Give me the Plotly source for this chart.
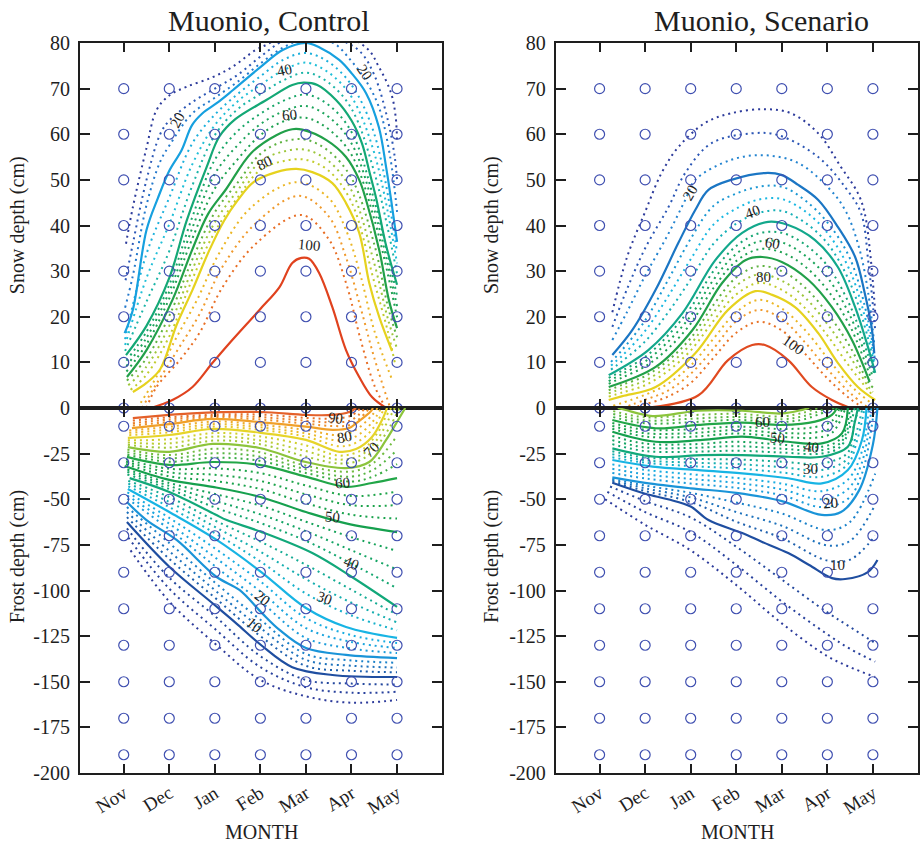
import plotly.graph_objects as go
from plotly.colors import find_intermediate_color, hex_to_rgb

FONT = "Liberation Serif, Times New Roman, serif"
INK = "#1e1e1e"
CIRCLE = "#3f4fb0"

# ---- axes / grid -----------------------------------------------------------
MONTHS = ["Nov", "Dec", "Jan", "Feb", "Mar", "Apr", "May"]
MONTH_X = [1, 2, 3, 4, 5, 6, 7]
SNOW_GRID = [0, 10, 20, 30, 40, 50, 60, 70]
FROST_GRID = [-10, -30, -50, -70, -90, -110, -130, -150, -170, -190]
SNOW_TICKS = [0, 10, 20, 30, 40, 50, 60, 70, 80]
FROST_TICKS = [-200, -175, -150, -125, -100, -75, -50, -25]
SNOW_TICK_TEXT = ["0", "10", "20", "30", "40", "50", "60", "70", "80"]
FROST_TICK_TEXT = ["-200", "-175", "-150", "-125", "-100", "-75", "-50", "-25"]
SNOW_SOLID = [20, 40, 60, 80, 100]
FROST_SOLID = [10, 20, 30, 40, 50, 60, 70, 80, 90, 100]

# ---- probability isolines: level (%) -> [(month, depth cm), ...] ----------
ctrl_snow = {
    5: [(1.05, 36), (1.2, 44), (1.5, 57), (1.72, 65.3), (2.0, 68.5), (2.38, 70.4), (2.95, 72.5), (3.39, 74.8),
        (3.9, 78.5), (4.13, 79.6), (5.1, 84), (6.32, 79), (6.6, 74.8), (6.87, 69), (6.97, 63.8), (7.0, 58)],
    10: [(1.04, 28), (1.2, 36), (1.5, 50), (1.8, 60), (2.0, 63), (2.5, 67), (3.0, 70), (3.5, 73), (4.0, 77),
         (4.5, 80.5), (5.1, 82.5), (5.8, 80.5), (6.2, 78), (6.5, 73), (6.8, 63), (6.95, 55), (7.0, 50)],
    15: [(1.03, 22), (1.2, 29), (1.5, 44.5), (1.8, 54), (2.0, 57.5), (2.5, 64.5), (3.0, 68), (3.5, 71.5),
         (4.0, 75.5), (4.5, 79), (5.0, 81), (5.6, 80), (6.0, 76), (6.3, 72), (6.6, 66), (6.85, 55), (7.0, 43)],
    20: [(1.02, 16.4), (1.2, 21.5), (1.5, 39), (1.75, 46), (2.0, 52), (2.27, 56.5), (2.5, 62), (2.73, 64.6),
         (3.04, 66.8), (3.4, 69.7), (4.0, 74.7), (4.5, 78.5), (5.0, 80), (5.3, 79), (5.73, 76.3), (6.0, 73.4),
         (6.32, 69), (6.6, 61.6), (6.76, 52.8), (6.87, 45.6), (7.0, 36.4)],
    25: [(1.03, 15.1), (1.5, 33.8), (2.0, 46.1), (2.5, 57.9), (3.0, 64.3), (3.5, 68.8), (4.0, 72.7), (4.5, 76.3),
         (5.0, 77.8), (5.5, 75.8), (6.0, 70.8), (6.5, 60.1), (7.0, 34.1)],
    30: [(1.03, 13.8), (1.5, 28.5), (2.0, 40.3), (2.5, 53.3), (3.0, 62), (3.5, 67.2), (4.0, 70.8), (4.5, 74),
         (5.0, 75.7), (5.5, 73.5), (6.0, 68.2), (6.5, 55.9), (7.0, 31.7)],
    35: [(1.03, 12.5), (1.5, 23.3), (2.0, 34.4), (2.5, 48.6), (3.0, 59.8), (3.5, 65.5), (4.0, 68.8), (4.5, 71.8),
         (5.0, 73.5), (5.5, 71.3), (6.0, 65.6), (6.5, 51.7), (7.0, 29.4)],
    40: [(1.05, 11.6), (1.5, 18), (2.0, 28.5), (2.38, 41), (2.82, 52.8), (3.1, 59.5), (3.45, 63.3), (4.13, 67.5),
         (4.7, 70.8), (4.95, 71.3), (5.25, 70.8), (5.66, 67.5), (6.0, 63), (6.23, 58), (6.4, 51.5), (6.55, 45.6),
         (6.75, 36), (7.0, 27)],
    45: [(1.06, 10.4), (1.5, 16.7), (2.0, 27), (2.5, 41.7), (3.0, 54.4), (3.5, 60.7), (4.0, 64.5), (4.5, 67.3),
         (5.0, 68.7), (5.5, 66.4), (6.0, 60.5), (6.5, 45.5), (7.0, 24.6)],
    50: [(1.06, 9.2), (1.5, 15.4), (2.0, 25.5), (2.5, 39.3), (3.0, 51.3), (3.5, 57.6), (4.0, 62.2), (4.5, 65),
         (5.0, 66.2), (5.5, 63.8), (6.0, 58), (6.5, 43.5), (7.0, 22.3)],
    55: [(1.06, 8), (1.5, 14), (2.0, 24), (2.5, 37), (3.0, 48.1), (3.5, 54.5), (4.0, 59.8), (4.5, 62.8),
         (5.0, 63.6), (5.5, 61.1), (6.0, 55.5), (6.5, 41.4), (7.0, 19.9)],
    60: [(1.07, 6.8), (1.5, 12.7), (2.07, 23.7), (2.5, 34.6), (2.85, 42.5), (3.25, 48), (3.8, 55.9),
         (4.35, 59.8), (4.7, 61.1), (4.92, 61), (5.45, 58.7), (5.88, 55), (6.17, 50), (6.32, 45.6),
         (6.61, 34.6), (6.82, 23.7), (7.0, 17.5)],
    65: [(1.07, 6), (1.5, 10.9), (2.0, 20.2), (2.5, 32.4), (3.0, 42.9), (3.5, 49.4), (4.0, 55.7), (4.5, 58.4),
         (5.0, 58.8), (5.5, 56.3), (6.0, 50.4), (6.5, 35.9), (6.8, 22.2), (7.0, 15.5)],
    70: [(1.1, 5), (1.5, 9.1), (2.0, 18), (2.5, 30.2), (3.0, 40.7), (3.5, 47.7), (4.0, 54), (4.5, 56.2),
         (5.0, 56.6), (5.5, 54.1), (6.0, 47.7), (6.5, 31.7), (6.8, 19.5), (7.0, 13)],
    75: [(1.15, 4), (1.5, 7.3), (2.0, 15.7), (2.5, 28.1), (3.0, 38.6), (3.5, 46.1), (4.0, 52.2), (4.5, 54.1),
         (5.0, 54.4), (5.5, 52), (6.0, 45.1), (6.5, 27.6), (6.8, 16.7), (6.95, 10)],
    80: [(1.2, 3.5), (1.5, 5.5), (1.8, 8.5), (2.16, 18.2), (2.51, 25.9), (2.88, 34.6), (3.2, 41), (3.5, 45.5),
         (3.85, 49.5), (4.35, 51.7), (4.79, 52.4), (5.14, 51.7), (5.58, 49.3), (5.88, 44.9), (6.17, 38.4),
         (6.39, 27.4), (6.61, 19.9), (6.89, 12.5)],
    85: [(1.3, 0), (1.7, 6.5), (2.16, 15.5), (2.6, 23.5), (3.1, 34), (3.8, 44), (4.8, 49.5), (5.5, 46),
         (5.88, 39), (6.2, 29), (6.5, 17), (6.9, 6)],
    90: [(1.4, 0), (1.7, 5), (2.2, 13), (2.66, 20.5), (3.17, 31), (3.9, 40.5), (4.85, 46.5), (5.5, 42),
         (5.88, 33), (6.2, 22), (6.5, 11), (6.85, 0)],
    95: [(1.5, 0), (1.72, 4.6), (2.23, 10.5), (2.66, 16.4), (3.17, 26.5), (3.9, 36), (4.9, 42.3), (5.5, 37),
         (5.88, 27.4), (6.2, 15), (6.5, 5), (6.75, 0)],
    100: [(1.6, 0), (2.07, 1.75), (2.51, 4.6), (2.95, 9.9), (3.32, 14.2), (3.98, 21.5), (4.42, 26.5), (4.7, 31.8),
          (4.9, 32.9), (5.07, 32.7), (5.29, 29.6), (5.58, 22.1), (5.88, 12.7), (6.17, 6.8), (6.45, 2.4), (6.76, 0)],
}

ctrl_frost = {
    2.5: [(1.15, -78), (2.0, -106), (3.0, -129), (4.0, -149), (5.0, -158), (6.0, -161.5), (7.0, -160)],
    5: [(1.1, -71), (2.0, -99), (3.0, -121), (4.0, -142), (5.0, -153), (6.0, -156), (7.0, -155.5)],
    7.5: [(1.07, -66), (2.0, -93), (3.0, -114), (4.0, -136), (5.0, -149), (6.0, -151), (7.0, -151.5)],
    10: [(1.07, -62.5), (2.0, -87), (2.95, -107), (3.47, -118), (4.02, -130), (4.7, -142), (5.58, -146.3),
         (7.0, -147.4)],
    12.5: [(1.07, -59.8), (2.0, -82.7), (3.0, -103.9), (4.0, -125), (5.0, -141.3), (6.0, -144), (7.0, -144.8)],
    15: [(1.07, -57), (2.0, -78.4), (3.0, -99.8), (4.0, -120.5), (5.0, -138), (6.0, -141.2), (7.0, -142.2)],
    17.5: [(1.07, -54.3), (2.0, -74), (3.0, -95.6), (4.0, -116), (5.0, -134.8), (6.0, -138.3), (7.0, -139.6)],
    20: [(1.07, -51.5), (1.5, -61.4), (2.16, -72.3), (3.04, -92.6), (3.54, -99.7), (4.02, -112), (4.42, -121.6),
         (5.0, -131.5), (5.88, -135.3), (7.0, -137)],
    22.5: [(1.08, -49.7), (2.0, -66.5), (3.0, -86.6), (4.0, -106), (5.0, -126), (6.0, -131.8), (7.0, -134.3)],
    25: [(1.08, -48), (2.0, -63.4), (3.0, -81.8), (4.0, -100.5), (5.0, -120.6), (6.0, -128.2), (7.0, -131.5)],
    27.5: [(1.08, -46.2), (2.0, -60.2), (3.0, -76.9), (4.0, -95), (5.0, -115.1), (6.0, -124.5), (7.0, -128.8)],
    30: [(1.09, -44.4), (2.0, -57), (3.04, -72.3), (4.02, -89.9), (5.0, -109.6), (5.88, -120), (7.0, -126)],
    32.5: [(1.1, -42.9), (2.0, -54.3), (3.0, -68.6), (4.0, -84.1), (5.0, -101.7), (6.0, -113.7), (7.0, -121.8)],
    35: [(1.1, -41.4), (2.0, -51.5), (3.0, -65.1), (4.0, -78.7), (5.0, -93.8), (6.0, -106.7), (7.0, -117.5)],
    37.5: [(1.1, -39.9), (2.0, -48.8), (3.0, -61.6), (4.0, -73.2), (5.0, -85.9), (6.0, -99.6), (7.0, -113.3)],
    40: [(1.13, -38.4), (2.0, -46), (3.0, -58.2), (3.26, -61.4), (4.02, -67.9), (5.14, -79.5), (6.01, -92.6),
         (7.0, -109)],
    42.5: [(1.08, -36.4), (2.0, -44.4), (3.0, -54.5), (4.0, -63), (5.0, -72.8), (6.0, -85.3), (7.0, -98.8)],
    45: [(1.08, -35), (2.0, -42.7), (3.0, -50.8), (4.0, -58.3), (5.0, -67.5), (6.0, -78), (7.0, -88.5)],
    47.5: [(1.08, -33.7), (2.0, -41.1), (3.0, -47.1), (4.0, -53.5), (5.0, -62.3), (6.0, -70.8), (7.0, -78.3)],
    50: [(1.02, -31.8), (2.0, -39.4), (2.95, -43.2), (3.98, -48.6), (5.0, -57), (5.88, -63.2), (7.0, -68)],
    52.5: [(1.05, -30.7), (2.0, -37.4), (3.0, -40), (4.0, -44.4), (5.0, -52.2), (6.0, -58.5), (7.0, -60.6)],
    55: [(1.05, -29.4), (2.0, -35.3), (3.0, -36.6), (4.0, -40), (5.0, -47.3), (6.0, -53.3), (7.0, -53.2)],
    57.5: [(1.05, -28.1), (2.0, -33.3), (3.0, -33.1), (4.0, -35.7), (5.0, -42.5), (6.0, -48.2), (7.0, -45.8)],
    60: [(1.07, -26.8), (2.0, -31.2), (2.95, -29.6), (3.98, -31.2), (5.0, -37.6), (5.88, -43.2), (6.45, -41.1),
         (7.0, -38.4)],
    62.5: [(1.08, -25.6), (2.0, -29.4), (3.0, -27.2), (4.0, -29), (5.0, -35.6), (6.0, -40.3), (6.5, -37.3),
           (7.0, -30.7)],
    65: [(1.08, -24.2), (2.0, -27.6), (3.0, -24.8), (4.0, -26.7), (5.0, -33.6), (6.0, -37.6), (6.5, -33.5),
         (7.0, -23)],
    67.5: [(1.08, -22.8), (2.0, -25.8), (3.0, -22.3), (4.0, -24.3), (5.0, -31.6), (6.0, -34.8), (6.5, -29.8),
           (7.0, -15.2)],
    70: [(1.09, -21.4), (2.0, -24), (2.95, -19.7), (3.98, -21.9), (5.0, -29.6), (5.88, -32.9), (6.39, -29.6),
         (6.76, -17.5), (6.98, -8.4), (7.18, 0)],
    72.5: [(1.09, -20.2), (2.0, -21.7), (3.0, -17.8), (4.0, -19.9), (5.0, -26.6), (5.75, -30.4), (6.25, -27.9),
           (6.6, -19.5), (6.85, -10), (7.05, 0)],
    75: [(1.09, -18.9), (2.0, -19.4), (3.0, -15.7), (4.0, -17.8), (5.0, -23.6), (5.75, -28.3), (6.25, -25.3),
         (6.6, -16), (6.8, -7), (6.95, 0)],
    77.5: [(1.09, -17.7), (2.0, -17.1), (3.0, -13.7), (4.0, -15.6), (5.0, -20.5), (5.75, -26.1), (6.25, -22.6),
           (6.6, -12.5), (6.75, -5), (6.87, 0)],
    80: [(1.09, -16.4), (2.0, -14.8), (2.95, -11.5), (3.98, -13.5), (5.0, -17.5), (5.73, -24), (6.1, -22.5),
         (6.45, -15.9), (6.7, -5), (6.78, 0)],
    82.5: [(1.12, -14.9), (2.0, -13.3), (3.0, -10.2), (4.0, -12), (5.0, -15.7), (5.75, -21), (6.1, -19),
           (6.45, -11.9), (6.72, 0)],
    85: [(1.12, -13.6), (2.0, -11.8), (3.0, -8.8), (4.0, -10.6), (5.0, -13.9), (5.75, -17.9), (6.1, -15.5),
         (6.45, -8), (6.65, 0)],
    87.5: [(1.12, -12.3), (2.0, -10.3), (3.0, -7.4), (4.0, -9.2), (5.0, -12), (5.75, -14.9), (6.1, -11.9),
           (6.45, -4), (6.57, 0)],
    90: [(1.18, -11), (2.0, -8.8), (2.95, -6), (3.98, -7.7), (5.0, -10.2), (5.58, -12), (5.95, -11), (6.1, -8.4),
         (6.43, -1.6), (6.47, 0)],
    92.5: [(1.2, -9.6), (2.0, -7.6), (3.0, -5.2), (4.0, -6.3), (5.0, -8.6), (5.6, -9.9), (6.0, -9), (6.4, 0)],
    95: [(1.2, -8.3), (2.0, -6.3), (3.0, -4.4), (4.0, -5), (5.0, -7), (5.6, -7.9), (6.0, -6.6), (6.3, 0)],
    97.5: [(1.2, -6.9), (2.0, -5.1), (3.0, -3.6), (4.0, -3.6), (5.0, -5.4), (5.6, -5.8), (6.0, -4.1), (6.2, 0)],
    100: [(1.2, -5.5), (2.0, -3.8), (2.5, -2.9), (4.0, -2.2), (5.0, -3.8), (5.58, -3.8), (5.95, -2.2), (6.1, 0)],
}

scen_snow = {
    5: [(1.28, 21), (1.6, 33), (2.0, 43), (2.36, 51.5), (2.73, 57.2), (3.32, 62.5), (3.89, 64.6), (4.63, 65.5),
        (5.2, 64.6), (5.8, 60.2), (6.3, 52.8), (6.67, 47.1), (6.82, 42.7), (6.95, 33), (7.05, 21)],
    10: [(1.28, 17.8), (1.6, 26), (2.0, 35), (2.51, 44), (2.88, 51.5), (3.45, 58), (4.33, 60.2), (4.92, 59.8),
         (5.8, 55), (6.39, 48.4), (6.74, 42.7), (6.9, 32), (7.05, 17)],
    15: [(1.28, 14.9), (1.6, 21), (2.0, 29), (2.5, 38), (2.88, 45.6), (3.1, 50), (3.89, 54.4), (4.63, 55.4),
         (5.36, 53.7), (6.01, 48.4), (6.39, 43.4), (6.7, 35), (6.9, 25), (7.03, 14)],
    20: [(1.28, 11.6), (1.72, 17.1), (2.23, 25.9), (2.73, 36.2), (3.1, 43.4), (3.39, 47.8), (3.89, 50),
         (4.63, 51.5), (4.99, 51.1), (5.36, 48.9), (5.8, 45.6), (6.23, 39.7), (6.61, 33.1), (6.82, 25.2),
         (6.97, 17.8), (7.03, 12)],
    25: [(1.25, 10.1), (1.5, 12.8), (2.0, 19.2), (2.5, 28), (3.0, 37.1), (3.5, 44.3), (4.0, 47), (4.5, 48.5),
         (5.0, 48.5), (5.5, 45.6), (6.0, 40.7), (6.5, 32.7), (6.9, 19), (7.04, 10.9)],
    30: [(1.25, 9.3), (1.5, 11.5), (2.0, 16.9), (2.5, 24.4), (3.0, 32.6), (3.5, 40.2), (4.0, 43.7), (4.5, 45.7),
         (5.0, 45.8), (5.5, 43.2), (6.0, 38.4), (6.5, 30), (6.9, 17), (7.04, 9.9)],
    35: [(1.25, 8.4), (1.5, 10.3), (2.0, 14.6), (2.5, 20.9), (3.0, 28.2), (3.5, 36), (4.0, 40.4), (4.5, 42.8),
         (5.0, 43.2), (5.5, 40.7), (6.0, 36.1), (6.5, 27.4), (6.9, 15), (7.04, 8.8)],
    40: [(1.2, 7.2), (2.07, 12.7), (2.82, 20.8), (3.54, 32.4), (4.13, 38.4), (4.7, 40.8), (5.14, 40.1),
         (5.73, 36.8), (6.23, 30.9), (6.61, 22.1), (6.89, 13.4), (7.05, 7.7)],
    45: [(1.2, 6.6), (1.5, 8.2), (2.0, 11.2), (2.5, 15.9), (3.0, 22), (3.5, 30), (4.0, 35.5), (4.5, 38.3),
         (5.0, 38.4), (5.5, 35.9), (6.0, 31.2), (6.5, 22.4), (6.9, 11.4), (7.04, 7.2)],
    50: [(1.2, 5.9), (1.5, 7.5), (2.0, 10.2), (2.5, 14.5), (3.0, 20.2), (3.5, 28.1), (4.0, 33.8), (4.5, 36.5),
         (5.0, 36.3), (5.5, 33.5), (6.0, 28.6), (6.5, 20.2), (6.9, 9.7), (7.0, 6.7)],
    55: [(1.2, 5.3), (1.5, 6.7), (2.0, 9.1), (2.5, 13), (3.0, 18.5), (3.5, 26.3), (4.0, 32.2), (4.5, 34.8),
         (5.0, 34.1), (5.5, 31.1), (6.0, 25.9), (6.5, 17.9), (6.9, 8.1), (6.97, 6.2)],
    60: [(1.2, 4.6), (2.23, 9), (3.04, 17.1), (3.69, 27.4), (4.2, 32.4), (4.57, 33.1), (5.0, 32), (5.58, 28.1),
         (6.1, 22.1), (6.54, 14.9), (6.93, 5.7)],
    65: [(1.2, 3.9), (1.5, 5.1), (2.0, 7), (2.5, 10.4), (3.0, 15.3), (3.5, 22.6), (4.0, 28.6), (4.5, 31.1),
         (5.0, 30), (5.5, 26.5), (6.0, 20.8), (6.5, 13.4), (6.9, 5.6), (7.0, 4.5)],
    70: [(1.2, 3.2), (1.5, 4.3), (2.0, 6), (2.5, 9.3), (3.0, 14), (3.5, 20.9), (4.0, 26.8), (4.5, 29.3),
         (5.0, 27.9), (5.5, 24.3), (6.0, 18.4), (6.5, 11.2), (6.9, 4.7), (7.0, 3.5)],
    75: [(1.2, 2.5), (1.5, 3.4), (2.0, 5), (2.5, 8.1), (3.0, 12.6), (3.5, 19.1), (4.0, 24.9), (4.5, 27.4),
         (5.0, 25.9), (5.5, 22), (6.0, 15.9), (6.5, 8.9), (6.9, 3.9), (7.02, 2.5)],
    80: [(1.2, 1.75), (1.5, 2.6), (2.23, 4.6), (3.1, 12), (3.82, 21.5), (4.42, 25.6), (4.79, 24.8), (5.29, 22.1),
         (5.8, 16.4), (6.23, 9.9), (6.67, 4.6), (7.05, 1.75)],
    85: [(1.3, 0.5), (2.0, 2.9), (2.5, 5.3), (3.0, 9.3), (3.5, 15.2), (4.0, 21), (4.5, 23.7), (5.0, 21.8),
         (5.5, 17.2), (6.0, 11), (6.5, 5), (7.0, 0.8)],
    90: [(1.5, 0), (2.0, 1.8), (2.5, 3.8), (3.0, 7.5), (3.5, 13), (4.0, 19), (4.5, 21.5), (5.0, 19.5),
         (5.5, 14.5), (6.0, 8.5), (6.5, 3.3), (6.9, 0)],
    95: [(1.7, 0), (2.0, 0.8), (2.5, 2.5), (3.0, 5.5), (3.5, 11), (4.0, 16.5), (4.5, 18.9), (5.0, 17),
         (5.5, 12), (6.0, 6.5), (6.5, 2), (6.8, 0)],
    100: [(2.16, 0.2), (3.17, 2.8), (3.82, 10.5), (4.35, 13.8), (4.63, 13.8), (5.14, 10.5), (5.66, 4.6),
          (6.1, 1.75), (6.45, 0.2)],
}

scen_frost = {
    2.5: [(1.12, -50), (2.0, -64), (3.0, -78), (4.0, -97), (5.0, -118), (6.0, -136), (6.5, -142), (7.05, -147.4)],
    5: [(1.17, -46), (2.0, -57), (3.0, -68), (4.0, -86), (5.0, -106), (6.0, -124), (6.5, -132), (7.05, -139)],
    7.5: [(1.23, -43), (2.0, -51), (3.0, -60), (4.0, -76), (5.0, -94), (6.0, -112), (6.5, -120), (7.05, -128.8)],
    10: [(1.28, -41), (2.0, -47), (2.5, -50), (3.0, -54), (3.39, -61.4), (4.13, -68.5), (4.57, -73.4),
         (5.14, -79.5), (5.6, -86), (6.1, -93.2), (6.39, -93.7), (6.89, -89.9), (7.1, -83.3)],
    12.5: [(1.28, -40.3), (2.0, -45.5), (3.0, -51.5), (4.0, -62.3), (5.0, -71.3), (6.0, -83.6), (6.5, -83.1),
           (7.05, -70)],
    15: [(1.28, -39.5), (2.0, -44), (3.0, -49), (4.0, -57), (5.0, -64.5), (6.0, -75.3), (6.5, -72.8), (7.05, -53)],
    17.5: [(1.28, -38.8), (2.0, -42.5), (3.0, -46.5), (4.0, -51.8), (5.0, -57.8), (6.0, -66.9), (6.5, -62.4),
           (7.05, -36)],
    20: [(1.28, -38), (2.0, -41), (3.0, -44), (4.0, -46.5), (5.0, -51), (5.88, -58.6), (6.3, -57), (6.7, -45),
         (7.0, -20), (7.1, 0)],
    22.5: [(1.28, -35.6), (2.0, -38.6), (3.0, -41.4), (4.0, -43.8), (5.0, -47.8), (5.88, -54.3), (6.45, -49.8),
           (6.76, -35.9), (7.03, 0)],
    25: [(1.28, -33.3), (2.0, -36.3), (3.0, -38.9), (4.0, -41), (5.0, -44.6), (5.88, -50), (6.45, -44.5),
         (6.76, -29.8), (6.97, 0)],
    27.5: [(1.28, -30.9), (2.0, -33.9), (3.0, -36.3), (4.0, -38.3), (5.0, -41.4), (5.88, -45.6), (6.45, -39.3),
           (6.76, -23.6), (6.91, 0)],
    30: [(1.28, -28.5), (2.16, -32.1), (3.17, -34), (4.13, -35.8), (5.14, -38.5), (5.88, -41.3), (6.45, -34),
         (6.76, -17.5), (6.86, 0)],
    32.5: [(1.28, -27), (2.0, -30), (3.0, -31.8), (4.0, -33.1), (5.0, -35.3), (5.88, -37.7), (6.45, -30.8),
           (6.65, -18), (6.82, 0)],
    35: [(1.28, -25.3), (2.0, -28.6), (3.0, -29.9), (4.0, -30.7), (5.0, -32.4), (5.88, -34), (6.45, -27.6),
         (6.65, -12.5), (6.77, 0)],
    37.5: [(1.28, -23.7), (2.0, -27.1), (3.0, -27.9), (4.0, -28.2), (5.0, -29.4), (5.88, -30.4), (6.45, -24.4),
           (6.6, -7), (6.72, 0)],
    40: [(1.28, -22.1), (2.23, -26.7), (3.26, -25.8), (4.13, -25.8), (5.14, -26.7), (5.88, -26.7), (6.45, -21.2),
         (6.6, -8), (6.67, 0)],
    42.5: [(1.28, -19.8), (2.0, -23.6), (3.0, -24), (4.0, -23.4), (5.0, -24.4), (5.88, -24.9), (6.3, -20.9),
           (6.6, 0)],
    45: [(1.28, -17.6), (2.0, -21.6), (3.0, -21.9), (4.0, -20.9), (5.0, -22.3), (5.88, -23.1), (6.3, -18.8),
         (6.55, 0)],
    47.5: [(1.28, -15.3), (2.0, -19.5), (3.0, -19.9), (4.0, -18.5), (5.0, -20.1), (5.88, -21.2), (6.3, -16.6),
           (6.5, 0)],
    50: [(1.28, -13), (2.23, -18.5), (3.26, -17.5), (4.13, -15.7), (5.14, -18.5), (5.88, -19.4), (6.32, -13.9),
         (6.45, 0)],
    52.5: [(1.28, -11.4), (2.0, -15.6), (3.0, -15.8), (4.0, -14), (5.0, -15.8), (5.73, -16.3), (6.1, -13.7),
           (6.4, 0)],
    55: [(1.28, -9.8), (2.0, -13.8), (3.0, -13.8), (4.0, -12.1), (5.0, -13.7), (5.73, -13.4), (6.1, -10.4),
         (6.33, 0)],
    57.5: [(1.28, -8.2), (2.0, -11.9), (3.0, -11.7), (4.0, -10.2), (5.0, -11.5), (5.73, -10.4), (6.1, -7.1),
           (6.27, 0)],
    60: [(1.28, -6.6), (2.23, -11.1), (3.17, -9.3), (4.13, -8), (5.0, -9.3), (5.73, -7.5), (6.1, -3.8), (6.21, 0)],
    62.5: [(1.3, -5), (2.0, -8.4), (3.0, -7.8), (4.0, -6.5), (5.0, -7.7), (5.5, -6.1), (6.15, 0)],
    65: [(1.3, -3.3), (2.0, -6.8), (3.0, -5.9), (4.0, -4.9), (5.0, -6.2), (5.5, -4.3), (6.0, 0)],
    67.5: [(1.3, -1.7), (2.0, -5.1), (3.0, -3.9), (4.0, -3.2), (5.0, -4.6), (5.5, -2.4), (5.8, 0)],
    70: [(1.4, 0), (1.57, -1.1), (2.16, -4.4), (3.17, -1.5), (4.13, -1.5), (5.0, -3), (5.45, -1), (5.6, 0)],
}

# ---- isoline labels: (level, month, depth, text angle) ---------------------
ctrl_snow_labels = [(20, 2.18, 63.1, -62), (40, 4.53, 74.1, -12), (60, 4.63, 64.2, -5), (80, 4.09, 53.7, -25),
                    (100, 5.07, 35.7, 5), (20, 6.28, 73.6, 55)]
ctrl_frost_labels = [(90, 5.64, -5.5, 8), (80, 5.84, -15.9, -10), (70, 6.43, -23, -45), (60, 5.8, -41.1, -5),
                     (50, 5.58, -59.7, 5), (40, 5.99, -84.9, 22), (30, 5.4, -104.1, 20), (20, 4.04, -104.1, 38),
                     (10, 3.87, -118.9, 40)]
scen_snow_labels = [(20, 2.99, 47.1, -60), (40, 4.35, 43, -20), (60, 4.79, 36.2, 10), (80, 4.59, 28.7, 0),
                    (100, 5.25, 13.8, 35)]
scen_frost_labels = [(60, 4.57, -7.7, 0), (50, 4.9, -16.4, 5), (40, 5.66, -21.4, 5), (30, 5.62, -33.4, 0),
                     (20, 6.06, -52.1, -5), (10, 6.23, -86, 0)]

# ---- line colours (jet-like ramps) -----------------------------------------
ctrl_snow_colors = {5: "#2d3b9b", 10: "#2b56b5", 15: "#2479cc", 20: "#17a0df", 30: "#20bfd8", 40: "#14a876",
                    50: "#1ca45a", 60: "#22a04a", 70: "#9cc63a", 80: "#e6d21e", 90: "#f09a2c", 100: "#e0421e"}
scen_snow_colors = {5: "#2d3b9b", 10: "#2b56b5", 15: "#2384d0", 20: "#1b76c4", 30: "#1ab8e2", 40: "#13a88c",
                    50: "#1aa45a", 60: "#22a04a", 70: "#9cc63a", 80: "#e6d21e", 90: "#f09a2c", 100: "#e04a20"}
frost_colors = {2.5: "#2d3b9b", 10: "#1f4ea0", 20: "#1a94d8", 30: "#18b4e4", 40: "#12a87a", 50: "#16a04e",
                60: "#22a648", 70: "#8cc43c", 80: "#e6d42a", 90: "#f0a02a", 100: "#e4602a"}


def level_color(level, anchors):
    keys = sorted(anchors)
    if level <= keys[0]:
        return anchors[keys[0]]
    if level >= keys[-1]:
        return anchors[keys[-1]]
    for lo, hi in zip(keys[:-1], keys[1:]):
        if lo <= level <= hi:
            t = (level - lo) / (hi - lo)
            c = find_intermediate_color(hex_to_rgb(anchors[lo]), hex_to_rgb(anchors[hi]), t)
            return "rgb(%d,%d,%d)" % tuple(int(round(v)) for v in c)


fig = go.Figure()


def add_isolines(lines, solid, anchors, xa, ya):
    # dotted intermediate levels first, solid labelled levels on top
    for want_solid in (False, True):
        for level in sorted(lines):
            if (level in solid) != want_solid:
                continue
            pts = lines[level]
            fig.add_trace(go.Scatter(
                x=[p[0] for p in pts], y=[p[1] for p in pts], mode="lines",
                xaxis=xa, yaxis=ya, hoverinfo="skip", showlegend=False,
                line=dict(shape="spline", smoothing=1.0, color=level_color(level, anchors),
                          width=2.2 if want_solid else 2.0,
                          dash="solid" if want_solid else "2px,4px"),
            ))


def add_grid(xa, ya, depths):
    xs = [m for d in depths for m in MONTH_X]
    ys = [d for d in depths for m in MONTH_X]
    fig.add_trace(go.Scatter(
        x=xs, y=ys, mode="markers", xaxis=xa, yaxis=ya, hoverinfo="skip", showlegend=False,
        cliponaxis=False,
        marker=dict(symbol="circle-open", size=10, color=CIRCLE, line=dict(width=1.2, color=CIRCLE)),
    ))


add_isolines(ctrl_snow, SNOW_SOLID, ctrl_snow_colors, "x", "y")
add_isolines(ctrl_frost, FROST_SOLID, frost_colors, "x2", "y2")
add_isolines(scen_snow, SNOW_SOLID, scen_snow_colors, "x3", "y3")
add_isolines(scen_frost, FROST_SOLID, frost_colors, "x4", "y4")

add_grid("x", "y", SNOW_GRID)
add_grid("x2", "y2", FROST_GRID)
add_grid("x3", "y3", SNOW_GRID)
add_grid("x4", "y4", FROST_GRID)

annotations = []
for labels, xr, yr in ((ctrl_snow_labels, "x", "y"), (ctrl_frost_labels, "x2", "y2"),
                       (scen_snow_labels, "x3", "y3"), (scen_frost_labels, "x4", "y4")):
    for level, mx, d, ang in labels:
        annotations.append(dict(x=mx, y=d, xref=xr, yref=yr, text=str(level), showarrow=False,
                                textangle=ang, font=dict(family=FONT, size=15, color=INK)))

LEFT = [0.0, 0.43214]
RIGHT = [0.56786, 1.0]

# panel titles, axis titles
for text, px in (("Muonio, Control", 0.226), ("Muonio, Scenario", 0.813)):
    annotations.append(dict(x=px, y=1.0315, xref="paper", yref="paper", text=text, showarrow=False,
                            xanchor="center", yanchor="middle", font=dict(family=FONT, size=30, color=INK)))
for px in (-0.0738, 0.4917):
    annotations.append(dict(x=px, y=0.7507, xref="paper", yref="paper", text="Snow depth (cm)",
                            showarrow=False, textangle=-90, xanchor="center", yanchor="middle",
                            font=dict(family=FONT, size=20, color=INK)))
    annotations.append(dict(x=px, y=0.2959, xref="paper", yref="paper", text="Frost depth (cm)",
                            showarrow=False, textangle=-90, xanchor="center", yanchor="middle",
                            font=dict(family=FONT, size=20, color=INK)))
for px in (0.2167, 0.7845):
    annotations.append(dict(x=px, y=-0.0808, xref="paper", yref="paper", text="MONTH", showarrow=False,
                            xanchor="center", yanchor="middle", font=dict(family=FONT, size=20, color=INK)))


def xaxis(domain, anchor, labels):
    return dict(domain=domain, anchor=anchor, range=[0.04, 7.99], tickmode="array", tickvals=MONTH_X,
                ticktext=MONTHS, showticklabels=labels, ticks="inside", ticklen=9, tickwidth=2, tickcolor=INK,
                showline=True, linewidth=2, linecolor=INK, mirror="ticks", showgrid=False, zeroline=False,
                tickangle=-32, tickfont=dict(family=FONT, size=19, color=INK), fixedrange=True)


def yaxis(domain, anchor, rng, ticks, text):
    return dict(domain=domain, anchor=anchor, range=rng, tickmode="array", tickvals=ticks, ticktext=text,
                ticks="inside", ticklen=10, tickwidth=2, tickcolor=INK, showline=True, linewidth=2,
                linecolor=INK, mirror="ticks", showgrid=False, zeroline=False, ticklabelstandoff=4,
                tickfont=dict(family=FONT, size=20, color=INK), fixedrange=True)


fig.update_layout(
    width=920, height=843, margin=dict(l=80, r=0, t=43, b=70),
    paper_bgcolor="white", plot_bgcolor="white", showlegend=False,
    xaxis=xaxis(LEFT, "y", False), yaxis=yaxis([0.5, 1.0], "x", [0, 80], SNOW_TICKS, SNOW_TICK_TEXT),
    xaxis2=xaxis(LEFT, "y2", True), yaxis2=yaxis([0.0, 0.5], "x2", [-200, 0], FROST_TICKS, FROST_TICK_TEXT),
    xaxis3=xaxis(RIGHT, "y3", False), yaxis3=yaxis([0.5, 1.0], "x3", [0, 80], SNOW_TICKS, SNOW_TICK_TEXT),
    xaxis4=xaxis(RIGHT, "y4", True), yaxis4=yaxis([0.0, 0.5], "x4", [-200, 0], FROST_TICKS, FROST_TICK_TEXT),
    annotations=annotations,
)

fig.write_html("out.html")
